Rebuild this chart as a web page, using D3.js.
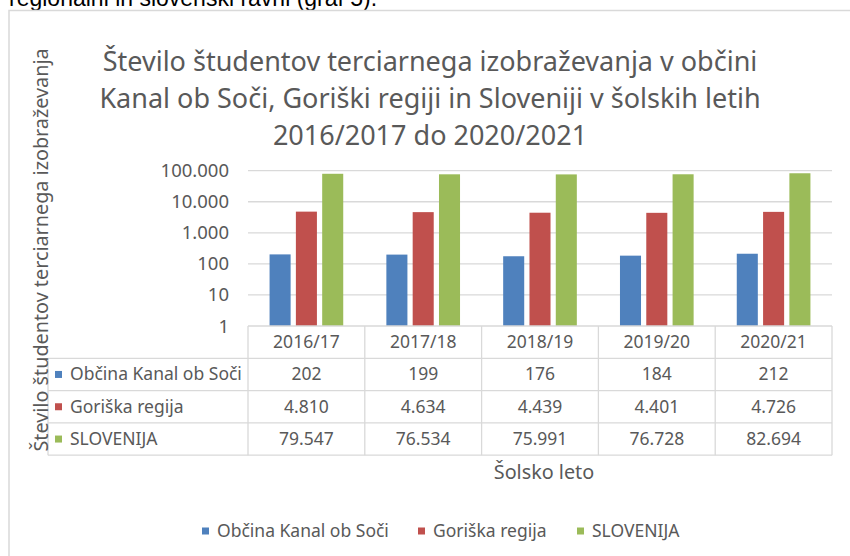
<!DOCTYPE html>
<html>
<head>
<meta charset="utf-8">
<script src="https://cdn.jsdelivr.net/npm/d3@7"></script>
<style>
	html, body { margin: 0; padding: 0; background: #fff; overflow: hidden; }
	svg text { font-family: 'Noto Sans', 'Open Sans', sans-serif; fill: #595959; }
</style>
</head>
<body>
<svg id="chart" width="850" height="556"></svg>
<script>
const categories = [ '2016/17', '2017/18', '2018/19', '2019/20', '2020/21' ];
const seriesNames = [ 'Občina Kanal ob Soči', 'Goriška regija', 'SLOVENIJA' ];
const kanal = [ 202, 199, 176, 184, 212 ];
const goriska = [ 4810, 4634, 4439, 4401, 4726 ];
const slovenija = [ 79547, 76534, 75991, 76728, 82694 ];
const yTicks = [ 1, 10, 100, 1000, 10000, 100000 ];
const titleLines = [
	'Število študentov terciarnega izobraževanja v občini',
	'Kanal ob Soči, Goriški regiji in Sloveniji v šolskih letih',
	'2016/2017 do 2020/2021'
];
const yTitle = 'Število študentov terciarnega izobraževanja';
const xTitle = 'Šolsko leto';

const colors = [ '#4F81BD', '#C0504D', '#9BBB59' ];
const grid = '#D9D9D9';
const series = seriesNames.map((name, i) => ({ name, values: [ kanal, goriska, slovenija ][i], color: colors[i] }));

const sl = d3.formatLocale({ decimal: ',', thousands: '.', grouping: [ 3 ], currency: [ '', ' €' ] });
const fmt = sl.format(',d');

const svg = d3.select('svg#chart');

// text of the document above the chart, cut off by the screenshot
svg.append('text')
	.attr('x', 9).attr('y', 6)
	.style('font-family', "'Liberation Sans', Arial, sans-serif")
	.style('font-size', '23px')
	.style('fill', '#000')
	.text('regionalni in slovenski ravni (graf 5).');

// chart frame
svg.append('rect')
	.attr('x', 9).attr('y', 10.5)
	.attr('width', 900).attr('height', 600)
	.attr('fill', '#fff')
	.attr('stroke', grid)
	.attr('stroke-width', 1.5);

// title
const title = svg.append('text')
	.attr('text-anchor', 'middle')
	.style('font-size', '27px');
title.selectAll('tspan')
	.data(titleLines)
	.join('tspan')
	.attr('x', 430)
	.attr('y', (d, i) => 71 + i * 37)
	.text(d => d);

// scales
const plot = { left: 248, right: 832, top: 170.7, bottom: 326 };
const x = d3.scaleBand(categories, [ plot.left, plot.right ]);
const xs = d3.scaleBand(d3.range(series.length), [ 0, x.bandwidth() ]).paddingInner(0.2).paddingOuter(0.82);
const y = d3.scaleLog([ 1, 100000 ], [ plot.bottom, plot.top ]);

// gridlines
svg.append('g')
	.selectAll('line')
	.data(yTicks.slice(1))
	.join('line')
	.attr('x1', plot.left).attr('x2', plot.right)
	.attr('y1', d => y(d)).attr('y2', d => y(d))
	.attr('stroke', grid).attr('stroke-width', 1.3);

// y tick labels
svg.append('g')
	.selectAll('text')
	.data(yTicks)
	.join('text')
	.attr('x', 229)
	.attr('y', d => y(d) + 6.5)
	.attr('text-anchor', 'end')
	.style('font-size', '18.5px')
	.text(d => fmt(d));

// bars
const groups = svg.append('g')
	.selectAll('g')
	.data(categories)
	.join('g')
	.attr('transform', d => `translate(${x(d)},0)`);
groups.selectAll('rect')
	.data((d, ci) => series.map((s, si) => ({ si, v: s.values[ci], color: s.color })))
	.join('rect')
	.attr('x', d => xs(d.si))
	.attr('width', xs.bandwidth())
	.attr('y', d => y(d.v))
	.attr('height', d => plot.bottom - y(d.v))
	.attr('fill', d => d.color);

// data table
const rowH = 32.3;
const tableLeft = 48;
const tbl = svg.append('g');
const rowY = i => plot.bottom + i * rowH;
tbl.append('line')
	.attr('x1', plot.left).attr('x2', plot.right)
	.attr('y1', rowY(0)).attr('y2', rowY(0))
	.attr('stroke', grid).attr('stroke-width', 1.3);
tbl.selectAll('line.row')
	.data(d3.range(1, series.length + 2))
	.join('line')
	.attr('class', 'row')
	.attr('x1', tableLeft).attr('x2', plot.right)
	.attr('y1', d => rowY(d)).attr('y2', d => rowY(d))
	.attr('stroke', grid).attr('stroke-width', 1.3);
tbl.selectAll('line.col')
	.data(categories.map(c => x(c)).concat([ plot.right ]))
	.join('line')
	.attr('class', 'col')
	.attr('x1', d => d).attr('x2', d => d)
	.attr('y1', rowY(0)).attr('y2', rowY(series.length + 1))
	.attr('stroke', grid).attr('stroke-width', 1.3);
tbl.append('line')
	.attr('x1', tableLeft).attr('x2', tableLeft)
	.attr('y1', rowY(1)).attr('y2', rowY(series.length + 1))
	.attr('stroke', grid).attr('stroke-width', 1.3);

// header row
tbl.selectAll('text.head')
	.data(categories)
	.join('text')
	.attr('class', 'head')
	.attr('x', d => x(d) + x.bandwidth() / 2)
	.attr('y', rowY(0) + rowH / 2 + 6)
	.attr('text-anchor', 'middle')
	.style('font-size', '17.5px')
	.text(d => d);

// series rows
const rows = tbl.selectAll('g.srow')
	.data(series)
	.join('g')
	.attr('class', 'srow')
	.attr('transform', (d, i) => `translate(0,${rowY(i + 1)})`);
rows.append('rect')
	.attr('x', 55).attr('y', rowH / 2 - 3.5)
	.attr('width', 7).attr('height', 7)
	.attr('fill', d => d.color);
rows.append('text')
	.attr('x', 70).attr('y', rowH / 2 + 6)
	.style('font-size', '17.5px')
	.text(d => d.name);
rows.selectAll('text.val')
	.data(d => d.values)
	.join('text')
	.attr('class', 'val')
	.attr('x', (d, i) => x(categories[i]) + x.bandwidth() / 2)
	.attr('y', rowH / 2 + 6)
	.attr('text-anchor', 'middle')
	.style('font-size', '17.5px')
	.text(d => fmt(d));

// axis titles
svg.append('text')
	.attr('transform', 'translate(48,250) rotate(-90)')
	.attr('text-anchor', 'middle')
	.style('font-size', '19.8px')
	.text(yTitle);
svg.append('text')
	.attr('x', 544).attr('y', 479)
	.attr('text-anchor', 'middle')
	.style('font-size', '19.8px')
	.text(xTitle);

// legend
const legendX = [ 202, 418, 577 ];
const legend = svg.append('g')
	.selectAll('g')
	.data(series)
	.join('g')
	.attr('transform', (d, i) => `translate(${legendX[i]},531)`);
legend.append('rect')
	.attr('x', 0).attr('y', -3.5)
	.attr('width', 7).attr('height', 7)
	.attr('fill', d => d.color);
legend.append('text')
	.attr('x', 15).attr('y', 6)
	.style('font-size', '17.5px')
	.text(d => d.name);
</script>
</body>
</html>
